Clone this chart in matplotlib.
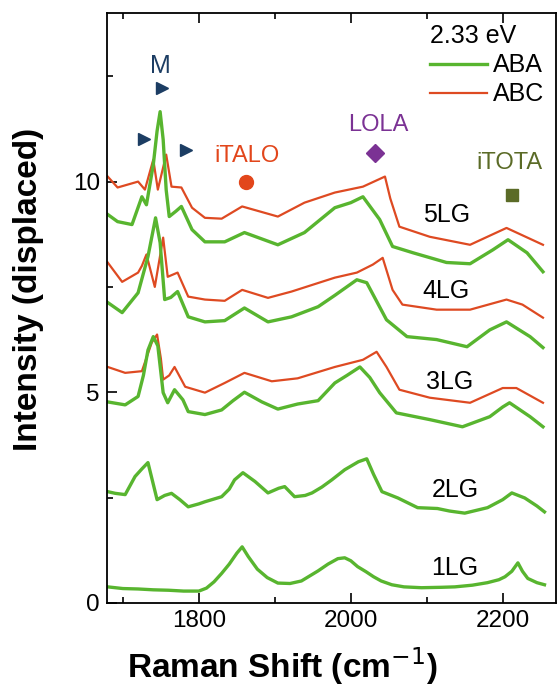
import matplotlib
matplotlib.use("Agg")
import matplotlib.pyplot as plt
from matplotlib.ticker import MultipleLocator

plt.rcParams['font.family'] = ['Liberation Sans', 'DejaVu Sans']

# spectra (Raman shift in cm-1, displaced intensity)
x_1lg = [1680, 1700, 1720, 1740, 1760, 1780, 1800, 1810, 1820, 1830, 1840, 1850, 1857, 1865,
         1877, 1890, 1904, 1920, 1935, 1957, 1970, 1983, 1992, 2000, 2009, 2020, 2030, 2040,
         2054, 2070, 2093, 2120, 2137, 2160, 2180, 2195, 2203, 2212, 2220, 2226, 2233, 2245, 2255]
y_1lg = [0.38, 0.34, 0.33, 0.31, 0.30, 0.28, 0.28, 0.35, 0.50, 0.70, 0.92, 1.18, 1.33, 1.10,
         0.80, 0.60, 0.47, 0.46, 0.52, 0.76, 0.92, 1.05, 1.07, 1.00, 0.86, 0.74, 0.62, 0.52,
         0.43, 0.38, 0.36, 0.37, 0.38, 0.42, 0.48, 0.55, 0.62, 0.75, 0.95, 0.75, 0.58, 0.48, 0.43]

x_2lg = [1680, 1690, 1703, 1716, 1725, 1733, 1745, 1755, 1764, 1775, 1786, 1800, 1808, 1830,
         1840, 1847, 1858, 1874, 1891, 1905, 1913, 1926, 1940, 1949, 1962, 1975, 1992, 2010,
         2021, 2030, 2041, 2062, 2088, 2114, 2130, 2150, 2180, 2200, 2212, 2229, 2245, 2255]
y_2lg = [2.64, 2.60, 2.57, 3.00, 3.18, 3.33, 2.45, 2.55, 2.60, 2.45, 2.28, 2.35, 2.40, 2.52,
         2.70, 2.92, 3.09, 2.88, 2.61, 2.72, 2.76, 2.52, 2.55, 2.61, 2.75, 2.92, 3.16, 3.35,
         3.42, 3.05, 2.64, 2.49, 2.26, 2.24, 2.18, 2.13, 2.26, 2.45, 2.61, 2.49, 2.30, 2.16]

x_3lg_aba = [1680, 1703, 1720, 1727, 1733, 1740, 1746, 1753, 1759, 1768, 1779, 1786, 1808,
             1830, 1845, 1860, 1883, 1904, 1930, 1957, 1979, 1995, 2012, 2025, 2038, 2060,
             2104, 2147, 2183, 2200, 2209, 2236, 2253]
y_3lg_aba = [4.77, 4.70, 4.90, 5.40, 6.00, 6.32, 6.10, 4.99, 4.75, 5.06, 4.82, 4.54, 4.47,
             4.58, 4.80, 5.00, 4.77, 4.60, 4.72, 4.80, 5.22, 5.40, 5.60, 5.35, 4.99, 4.51,
             4.35, 4.18, 4.42, 4.65, 4.75, 4.42, 4.18]
x_3lg_abc = [1680, 1703, 1725, 1738, 1745, 1750, 1753, 1761, 1768, 1782, 1808, 1834, 1860,
             1896, 1930, 1979, 2016, 2034, 2047, 2064, 2104, 2157, 2200, 2218, 2253]
y_3lg_abc = [5.60, 5.46, 5.50, 6.18, 6.37, 5.80, 5.30, 5.40, 5.60, 5.13, 4.99, 5.22, 5.46,
             5.26, 5.33, 5.60, 5.77, 5.96, 5.60, 5.06, 4.87, 4.75, 5.10, 5.10, 4.75]

x_4lg_aba = [1680, 1699, 1720, 1733, 1743, 1749, 1755, 1763, 1772, 1786, 1808, 1834, 1860,
             1891, 1922, 1957, 1979, 2008, 2021, 2047, 2074, 2113, 2153, 2183, 2205, 2236, 2253]
y_4lg_aba = [7.13, 6.89, 7.36, 8.22, 9.14, 8.55, 7.20, 7.25, 7.39, 6.79, 6.67, 6.70, 7.00,
             6.67, 6.79, 7.03, 7.30, 7.67, 7.60, 6.72, 6.32, 6.25, 6.08, 6.48, 6.67, 6.32, 6.06]
x_4lg_abc = [1680, 1699, 1720, 1725, 1731, 1742, 1753, 1759, 1772, 1786, 1808, 1834, 1857,
             1891, 1922, 1979, 2008, 2029, 2042, 2055, 2068, 2113, 2157, 2205, 2226, 2253]
y_4lg_abc = [8.08, 7.62, 7.84, 8.00, 8.27, 7.50, 8.67, 7.74, 7.84, 7.27, 7.20, 7.17, 7.43,
             7.24, 7.39, 7.72, 7.84, 8.03, 8.19, 7.43, 7.08, 6.96, 6.96, 7.20, 7.08, 6.77]

x_5lg_aba = [1680, 1693, 1712, 1725, 1731, 1740, 1745, 1749, 1753, 1757, 1761, 1770, 1777,
             1791, 1808, 1834, 1860, 1904, 1939, 1979, 2000, 2016, 2038, 2055, 2082, 2126,
             2157, 2187, 2207, 2232, 2253]
y_5lg_aba = [9.22, 9.05, 8.98, 9.64, 9.45, 10.40, 11.20, 11.66, 11.00, 9.80, 9.17, 9.30, 9.41,
             8.86, 8.57, 8.57, 8.79, 8.50, 8.79, 9.38, 9.50, 9.64, 9.10, 8.46, 8.31, 8.08,
             8.05, 8.38, 8.62, 8.31, 7.86]
x_5lg_abc = [1680, 1693, 1720, 1729, 1740, 1746, 1757, 1764, 1777, 1791, 1808, 1830, 1857,
             1904, 1939, 1979, 2016, 2045, 2052, 2064, 2104, 2157, 2205, 2253]
y_5lg_abc = [10.12, 9.86, 10.00, 9.81, 10.52, 9.81, 10.64, 9.88, 9.86, 9.38, 9.14, 9.12, 9.41,
             9.17, 9.50, 9.74, 9.88, 10.12, 9.60, 8.93, 8.69, 8.50, 8.90, 8.50]

layer_labels = ['1LG', '2LG', '3LG', '4LG', '5LG']
layer_label_pos = [(2137, 0.83), (2137, 2.68), (2130, 5.25), (2126, 7.40), (2126, 9.20)]

green = '#58b52f'
red = '#de4a22'

fig = plt.figure(figsize=(5.57, 6.89), dpi=100)
ax = fig.add_axes([0.192, 0.125, 0.806, 0.856])

abc = [(x_3lg_abc, y_3lg_abc), (x_4lg_abc, y_4lg_abc), (x_5lg_abc, y_5lg_abc)]
aba = [(x_1lg, y_1lg), (x_2lg, y_2lg), (x_3lg_aba, y_3lg_aba),
       (x_4lg_aba, y_4lg_aba), (x_5lg_aba, y_5lg_aba)]
for xs, ys in abc:
    ax.plot(xs, ys, color=red, lw=1.6)
for xs, ys in aba:
    ax.plot(xs, ys, color=green, lw=2.4)

for name, (tx, ty) in zip(layer_labels, layer_label_pos):
    ax.text(tx, ty, name, fontsize=18, ha='center', va='center')

# peak markers and labels
navy = '#1c3d63'
ax.text(1749, 12.75, 'M', color=navy, fontsize=18, ha='center', va='center')
ax.plot([1751, 1728, 1783], [12.23, 11.0, 10.76], ls='none', marker='>', ms=8, color=navy)
ax.text(1864, 10.6, 'iTALO', color='#e2461b', fontsize=17, ha='center', va='center')
ax.plot(1862, 9.98, marker='o', ms=10, color='#e2461b')
ax.text(2036, 11.35, 'LOLA', color='#7b3294', fontsize=17, ha='center', va='center')
ax.plot(2032, 10.69, marker='D', ms=9, color='#7b3294')
ax.text(2209, 10.45, 'iTOTA', color='#5b6b27', fontsize=17, ha='center', va='center')
ax.plot(2212, 9.69, marker='s', ms=9, color='#5b6b27')

h1, = ax.plot([], [], color=green, lw=2.4, label='ABA')
h2, = ax.plot([], [], color=red, lw=1.6, label='ABC')
leg = ax.legend(handles=[h1, h2], title='2.33 eV', loc='upper right', frameon=False,
                fontsize=18, title_fontsize=18, handlelength=2.3, handletextpad=0.25,
                labelspacing=0.2, alignment='left', borderaxespad=0.15, borderpad=0.3)

ax.set_xlim(1679, 2270)
ax.set_ylim(0, 14)
ax.xaxis.set_major_locator(MultipleLocator(200))
ax.xaxis.set_minor_locator(MultipleLocator(100))
ax.yaxis.set_major_locator(MultipleLocator(5))
ax.yaxis.set_minor_locator(MultipleLocator(2.5))
ax.tick_params(which='both', direction='in', top=True, labelsize=17.5, width=1.2)
ax.tick_params(which='major', length=7, pad=5)
ax.tick_params(which='minor', length=4)
for s in ax.spines.values():
    s.set_linewidth(1.3)

ax.set_xlabel('Raman Shift (cm$^{-1}$)', fontsize=24, fontweight='bold')
ax.set_ylabel('Intensity (displaced)', fontsize=24, fontweight='bold')
ax.xaxis.set_label_coords(0.39, -0.072)
ax.yaxis.set_label_coords(-0.14, 0.532)

fig.savefig('out.png', dpi=100)
